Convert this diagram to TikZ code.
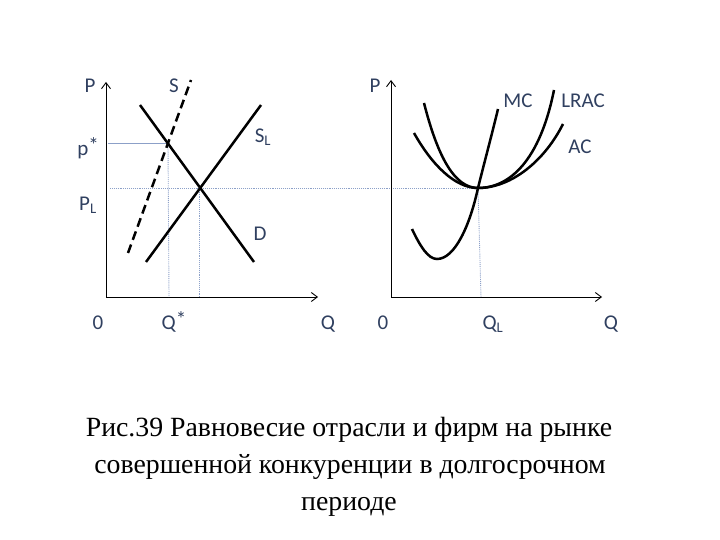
\documentclass[tikz,border=0pt]{standalone}
\usepackage{fontspec}
\setmainfont{Liberation Serif}
\newfontfamily\lblfont{Carlito}
\usetikzlibrary{arrows.meta}
\definecolor{lblc}{RGB}{48,64,96}
\definecolor{guide}{RGB}{140,160,200}
\newcommand{\hstar}{\raisebox{0.35ex}{*}}
\begin{document}
\begin{tikzpicture}[x=1pt,y=-1pt,
  axis/.style={line width=0.9pt,-{Straight Barb[length=6pt,width=9pt]}},
  curve/.style={line width=2.5pt,black},
  guidedot/.style={guide,line width=0.9pt,densely dotted},
  guidesolid/.style={guide,line width=0.9pt},
  lbl/.style={font=\lblfont\fontsize{21}{23}\selectfont,text=lblc,inner sep=0pt},
  captext/.style={font=\fontsize{27.8}{30}\selectfont,anchor=base,inner sep=0pt}]
\useasboundingbox (0,0) rectangle (720,540);
% ---------- left graph ----------
\coordinate (O1) at (106,297);
\coordinate (P1top) at (106,82);
\coordinate (Q1end) at (318,297);
\draw[axis] (O1) -- (P1top);
\draw[axis] (O1) -- (Q1end);
\coordinate (Dstart) at (140,105);
\coordinate (Dend) at (254,262);
\coordinate (SLstart) at (146,262);
\coordinate (SLend) at (261,105);
\coordinate (Sstart) at (128,253);
\coordinate (Send) at (191,80);
\coordinate (Estar) at (168,143);
\coordinate (EL) at (199,188);
\coordinate (pstarL) at (108,143);
\coordinate (PLL) at (110,188);
\coordinate (QstarB) at (169,297);
\coordinate (QLB) at (199,297);
\coordinate (Emin) at (478,188);
\coordinate (QLB2) at (481,297);
% guides
\draw[guidesolid] (pstarL) -- (Estar);
\draw[guidedot] (Estar) -- (QstarB);
\draw[guidedot] (PLL) -- (Emin);
\draw[guidedot] (EL) -- (QLB);
% curves
\draw[curve] (Dstart) -- (Dend);
\draw[curve] (SLstart) -- (SLend);
\draw[curve,dash pattern=on 9pt off 5pt] (Sstart) -- (Send);
% labels
\node[lbl] (lP1) at (90,86) {P};
\node[lbl] (lS) at (174,86) {S};
\node[lbl] (lpstar) at (88,148) {p\hstar};
\node[lbl] (lPL) at (88,205) {P\textsubscript{L}};
\node[lbl] (lSL) at (263,137) {S\textsubscript{L}};
\node[lbl] (lD) at (260,234) {D};
\node[lbl] (l01) at (98,323) {0};
\node[lbl] (lQstar) at (174,322) {Q\hstar};
\node[lbl] (lQ1) at (328,324) {Q};
% ---------- right graph ----------
\coordinate (O2) at (391,297);
\coordinate (P2top) at (391,80);
\coordinate (Q2end) at (602,297);
\draw[axis] (O2) -- (P2top);
\draw[axis] (O2) -- (Q2end);
\draw[guidedot] (Emin) -- (QLB2);
\coordinate (LRACs) at (424,103);
\coordinate (LRACe) at (554,90);
\coordinate (ACs) at (414,133);
\coordinate (ACe) at (563,124);
\coordinate (MCs) at (412,229);
\coordinate (MCmin) at (437,259);
\coordinate (MCe) at (498,109);
\draw[curve] (LRACs) .. controls (438,158) and (455,188) .. (Emin) .. controls (510,188) and (540,160) .. (LRACe);
\draw[curve] (ACs) .. controls (432,165) and (455,188) .. (Emin) .. controls (512,188) and (545,160) .. (ACe);
\draw[curve] (MCs) .. controls (420,246) and (428,259) .. (MCmin) .. controls (455,259) and (470,225) .. (Emin) .. controls (486,156) and (492,134) .. (MCe);
\node[lbl] (lP2) at (375,86) {P};
\node[lbl] (lMC) at (518,101) {MC};
\node[lbl] (lLRAC) at (583,101) {LRAC};
\node[lbl] (lAC) at (580,147) {AC};
\node[lbl] (l02) at (383,323) {0};
\node[lbl] (lQL) at (493,324) {Q\textsubscript{L}};
\node[lbl] (lQ2) at (611,324) {Q};
% ---------- caption ----------
\node[captext] (c1) at (349,436) {Рис.39 Равновесие отрасли и фирм на рынке};
\node[captext] (c2) at (350,473) {совершенной конкуренции в долгосрочном};
\node[captext] (c3) at (349,510) {периоде};
\end{tikzpicture}
\end{document}
